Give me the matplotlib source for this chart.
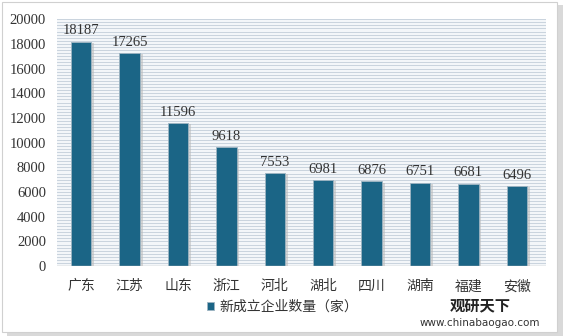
import matplotlib
matplotlib.use("Agg")
import matplotlib.pyplot as plt
from matplotlib.patches import Rectangle
import numpy as np

categories = ["广东", "江苏", "山东", "浙江", "河北", "湖北", "四川", "湖南", "福建", "安徽"]
values = [18187, 17265, 11596, 9618, 7553, 6981, 6876, 6751, 6681, 6496]
yticks = [0, 2000, 4000, 6000, 8000, 10000, 12000, 14000, 16000, 18000, 20000]
legend_label = "新成立企业数量（家）"

fam = ["Liberation Serif", "Noto Sans CJK SC"]
plt.rcParams["font.family"] = fam

fig = plt.figure(figsize=(5.65, 3.36), dpi=100)
fig.patch.set_facecolor("white")

bg = fig.add_axes([0, 0, 1, 1], zorder=-5)
bg.set_axis_off()
bg.set_xlim(0, 1)
bg.set_ylim(0, 1)
bg.add_patch(Rectangle((0.012, 0.0), 0.985, 0.985, facecolor="#d9d9d9", edgecolor="none"))
bg.add_patch(Rectangle((0.004, 0.012), 0.982, 0.982, facecolor="white", edgecolor="#d0d0d0", lw=0.8))

ax = fig.add_axes([0.101, 0.208, 0.865, 0.735], zorder=1)
ax.set_facecolor("#f3f6f9")
x = np.arange(len(categories))
for yv in np.arange(0, 20001, 250):
    ax.axhline(yv, color="#c9d3de", lw=0.7, zorder=0)
ax.bar(x + 0.04, values, width=0.46, color="#b8b8b8", alpha=0.55, zorder=1, bottom=-120)
bars = ax.bar(x, values, width=0.42, color="#1b6586", edgecolor="#9fb5c2", lw=0.6,
              zorder=2, label=legend_label)
for xi, v in zip(x, values):
    ax.text(xi, v + 350, str(v), ha="center", va="bottom", fontsize=10.5,
            color="#333333", family=fam)

ax.set_xlim(-0.5, len(categories) - 0.4)
ax.set_ylim(0, 20000)
ax.set_yticks(yticks)
ax.set_yticklabels([str(t) for t in yticks], fontsize=10.5, color="#333333")
ax.set_xticks(x)
ax.set_xticklabels(categories, fontsize=10, color="#333333")
ax.tick_params(length=0, pad=8)
ax.tick_params(axis="x", pad=10)
for s in ax.spines.values():
    s.set_visible(False)
ax.axhline(0, color="#bfbfbf", lw=1, zorder=3)

leg = fig.legend(handles=[bars], labels=[legend_label], loc="center",
                 bbox_to_anchor=(0.5, 0.085), frameon=False, fontsize=10,
                 handlelength=0.5, handleheight=0.5, handletextpad=0.4)
for t in leg.get_texts():
    t.set_color("#333333")

fig.text(0.85, 0.09, "观研天下", fontsize=11, fontweight="bold", color="#222222",
         ha="center", va="center", family=["Noto Sans CJK SC"], zorder=10)
fig.text(0.85, 0.038, "www.chinabaogao.com", fontsize=7.5, color="#333333",
         ha="center", va="center", family=["DejaVu Sans"], zorder=10)

fig.savefig("out.png", dpi=100)
